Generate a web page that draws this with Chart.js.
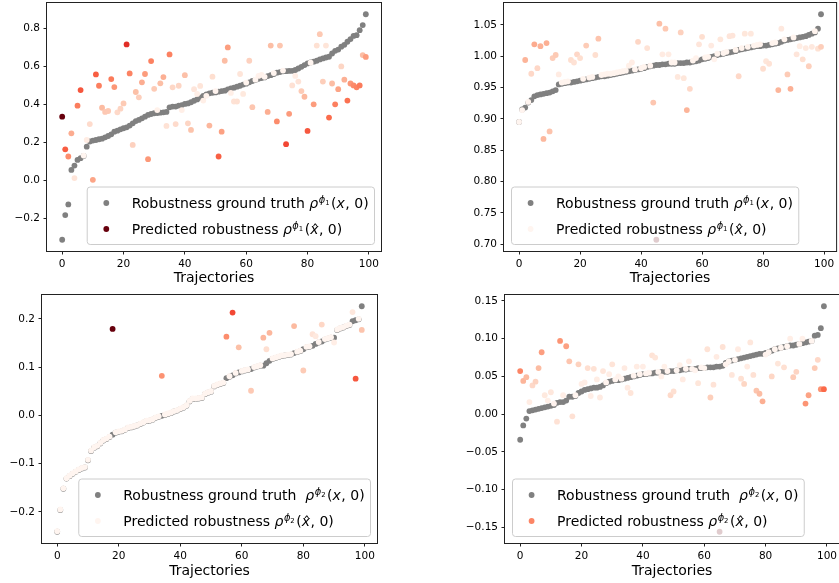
<!DOCTYPE html>
<html>
<head>
<meta charset="utf-8">
<script src="https://cdn.jsdelivr.net/npm/chart.js@4.4.1/dist/chart.umd.min.js"></script>
<style>
html, body { margin: 0; padding: 0; background: #fff; width: 839px; height: 583px; overflow: hidden; }
canvas { position: absolute; }
</style>
</head>
<body>
<canvas id="phi1a"></canvas>
<canvas id="phi1b"></canvas>
<canvas id="phi2a"></canvas>
<canvas id="phi2b"></canvas>
<script>
// ---- data ----
var xTicks = [0, 20, 40, 60, 80, 100];

var yTicksA = [-0.2, 0, 0.2, 0.4, 0.6, 0.8];
var yTicksB = [0.70, 0.75, 0.80, 0.85, 0.90, 0.95, 1.00, 1.05];
var yTicksC = [-0.2, -0.1, 0, 0.1, 0.2];
var yTicksD = [-0.15, -0.10, -0.05, 0, 0.05, 0.10, 0.15];

// top left: phi1, model A
var truthA = [-0.314, -0.184, -0.128, 0.054, 0.077, 0.107, 0.116, 0.128, 0.177, 0.204,
  0.209, 0.212, 0.216, 0.219, 0.226, 0.233, 0.242, 0.256, 0.261, 0.268,
  0.274, 0.279, 0.288, 0.300, 0.312, 0.318, 0.326, 0.335, 0.344, 0.349,
  0.353, 0.354, 0.356, 0.358, 0.360, 0.384, 0.388, 0.388, 0.393, 0.396,
  0.402, 0.405, 0.411, 0.419, 0.426, 0.435, 0.444, 0.453, 0.458, 0.461,
  0.463, 0.467, 0.470, 0.472, 0.479, 0.484, 0.488, 0.493, 0.498, 0.504,
  0.509, 0.516, 0.523, 0.528, 0.535, 0.539, 0.542, 0.549, 0.554, 0.560,
  0.567, 0.570, 0.574, 0.575, 0.576, 0.577, 0.581, 0.589, 0.598, 0.607,
  0.616, 0.621, 0.625, 0.630, 0.637, 0.642, 0.647, 0.651, 0.668, 0.682,
  0.689, 0.704, 0.714, 0.730, 0.744, 0.761, 0.765, 0.791, 0.818, 0.875];
var predA = [0.335, 0.163, 0.125, 0.247, 0.011, 0.393, 0.475, 0.130, 0.212, 0.296,
  0.002, 0.558, 0.498, 0.382, 0.360, 0.365, 0.533, 0.491, 0.358, 0.377,
  0.405, 0.716, 0.563, 0.186, 0.465, 0.437, 0.516, 0.560, 0.111, 0.628,
  0.482, 0.370, 0.511, 0.544, 0.286, 0.663, 0.490, 0.296, 0.498, 0.370,
  0.554, 0.300, 0.265, 0.480, 0.455, 0.497, 0.420, 0.445, 0.288, 0.546,
  0.470, 0.125, 0.256, 0.630, 0.700, 0.460, 0.415, 0.415, 0.560, 0.455,
  0.515, 0.630, 0.385, 0.530, 0.550, 0.555, 0.545, 0.360, 0.710, 0.565,
  0.310, 0.710, 0.578, 0.190, 0.350, 0.500, 0.550, 0.520, 0.470, 0.440,
  0.260, 0.620, 0.400, 0.710, 0.770, 0.520, 0.710, 0.330, 0.510, 0.400,
  0.480, 0.600, 0.530, 0.420, 0.510, 0.500, 0.490, 0.500, 0.660, 0.650];

// top right: phi1, model B
var truthB = [0.895, 0.915, 0.918, 0.926, 0.930, 0.936, 0.938, 0.939, 0.940, 0.941,
  0.942, 0.944, 0.946, 0.955, 0.956, 0.957, 0.958, 0.958, 0.959, 0.960,
  0.961, 0.962, 0.963, 0.964, 0.965, 0.966, 0.967, 0.968, 0.968, 0.969,
  0.970, 0.971, 0.972, 0.973, 0.974, 0.975, 0.976, 0.977, 0.978, 0.979,
  0.980, 0.981, 0.983, 0.984, 0.985, 0.986, 0.986, 0.987, 0.987, 0.988,
  0.988, 0.988, 0.989, 0.989, 0.989, 0.990, 0.990, 0.991, 0.992, 0.993,
  0.995, 0.996, 0.997, 0.999, 1.000, 1.002, 1.003, 1.004, 1.005, 1.006,
  1.007, 1.008, 1.010, 1.011, 1.012, 1.013, 1.014, 1.015, 1.016, 1.016,
  1.017, 1.017, 1.018, 1.019, 1.020, 1.021, 1.023, 1.025, 1.026, 1.027,
  1.028, 1.029, 1.030, 1.031, 1.032, 1.034, 1.036, 1.038, 1.044, 1.067];
var predB = [0.895, 0.914, 0.994, 0.927, 0.972, 1.019, 0.981, 1.016, 0.868, 1.021,
  0.880, 0.997, 1.002, 0.971, 0.958, 0.959, 0.960, 0.994, 0.990, 1.003,
  0.997, 0.964, 1.017, 0.966, 0.967, 1.002, 1.028, 0.970, 0.971, 0.972,
  0.972, 0.973, 0.974, 0.975, 0.976, 0.977, 0.985, 0.990, 0.979, 1.023,
  0.981, 0.983, 1.013, 0.985, 0.926, 0.707, 1.052, 1.003, 1.044, 1.003,
  0.990, 0.990, 0.967, 1.038, 0.965, 0.914, 0.948, 0.993, 0.997, 1.019,
  1.031, 0.998, 0.999, 1.017, 0.995, 1.004, 1.027, 1.005, 1.007, 1.032,
  1.033, 1.010, 0.968, 1.013, 1.036, 1.015, 1.036, 1.017, 1.018, 1.019,
  0.980, 0.992, 0.988, 1.021, 1.022, 0.946, 1.044, 1.027, 0.971, 0.948,
  1.030, 1.003, 1.016, 0.995, 1.013, 0.984, 1.015, 1.040, 1.012, 1.015];

// bottom left: phi2, model A
var truthC = [-0.241, -0.196, -0.152, -0.131, -0.126, -0.121, -0.117, -0.113, -0.110, -0.108,
  -0.093, -0.074, -0.067, -0.064, -0.058, -0.052, -0.049, -0.045, -0.040, -0.036,
  -0.034, -0.033, -0.030, -0.026, -0.025, -0.023, -0.021, -0.018, -0.015, -0.012,
  -0.011, -0.009, -0.005, -0.003, -0.001, 0.001, 0.003, 0.005, 0.008, 0.010,
  0.013, 0.016, 0.020, 0.029, 0.034, 0.034, 0.035, 0.036, 0.044, 0.047,
  0.049, 0.060, 0.063, 0.065, 0.067, 0.077, 0.080, 0.083, 0.087, 0.089,
  0.091, 0.093, 0.094, 0.096, 0.099, 0.101, 0.103, 0.103, 0.108, 0.113,
  0.117, 0.119, 0.121, 0.123, 0.124, 0.125, 0.126, 0.129, 0.131, 0.133,
  0.137, 0.141, 0.142, 0.144, 0.148, 0.151, 0.153, 0.157, 0.159, 0.161,
  0.161, 0.177, 0.180, 0.182, 0.185, 0.187, 0.195, 0.197, 0.199, 0.226];
var predC = [-0.240, -0.195, -0.151, -0.130, -0.125, -0.120, -0.116, -0.112, -0.109, -0.107,
  -0.092, -0.073, -0.066, -0.063, -0.057, -0.051, -0.048, -0.044, 0.179, -0.035,
  -0.033, -0.032, -0.029, -0.025, -0.024, -0.022, -0.020, -0.017, -0.014, -0.011,
  -0.010, -0.008, -0.004, -0.002, 0.082, 0.002, 0.004, 0.006, 0.009, 0.011,
  0.014, 0.017, 0.021, 0.030, 0.035, 0.035, 0.036, 0.037, 0.045, 0.048,
  0.050, 0.061, 0.064, 0.066, 0.068, 0.163, 0.081, 0.213, 0.088, 0.141,
  0.092, 0.094, 0.095, 0.051, 0.100, 0.102, 0.104, 0.161, 0.137, 0.171,
  0.118, 0.120, 0.122, 0.124, 0.125, 0.126, 0.127, 0.185, 0.132, 0.134,
  0.093, 0.142, 0.143, 0.168, 0.164, 0.152, 0.188, 0.158, 0.160, 0.162,
  0.151, 0.178, 0.181, 0.183, 0.186, 0.188, 0.214, 0.076, 0.200, 0.177];

// bottom right: phi2, model B
var truthD = [-0.034, -0.015, -0.006, 0.004, 0.005, 0.006, 0.007, 0.008, 0.009, 0.010,
  0.011, 0.012, 0.015, 0.016, 0.016, 0.018, 0.023, 0.023, 0.024, 0.028,
  0.030, 0.032, 0.033, 0.034, 0.035, 0.035, 0.036, 0.038, 0.041, 0.043,
  0.044, 0.045, 0.045, 0.046, 0.047, 0.048, 0.049, 0.050, 0.051, 0.052,
  0.053, 0.053, 0.054, 0.054, 0.055, 0.055, 0.056, 0.056, 0.056, 0.057,
  0.057, 0.058, 0.058, 0.059, 0.059, 0.060, 0.060, 0.060, 0.061, 0.061,
  0.061, 0.062, 0.062, 0.062, 0.063, 0.063, 0.064, 0.068, 0.070, 0.071,
  0.072, 0.073, 0.074, 0.075, 0.076, 0.077, 0.078, 0.079, 0.080, 0.080,
  0.081, 0.082, 0.084, 0.086, 0.087, 0.088, 0.089, 0.090, 0.091, 0.091,
  0.092, 0.093, 0.094, 0.095, 0.096, 0.097, 0.104, 0.105, 0.114, 0.143];
var predD = [0.057, 0.044, 0.049, 0.016, 0.038, 0.043, 0.061, 0.082, 0.025, 0.018,
  0.029, 0.014, -0.010, 0.097, 0.025, 0.090, 0.070, -0.003, 0.025, 0.066,
  0.040, 0.042, 0.061, 0.024, 0.060, 0.046, 0.022, 0.057, 0.042, 0.053,
  0.066, 0.046, 0.050, 0.047, 0.061, 0.035, 0.028, 0.051, 0.063, 0.053,
  0.063, 0.054, 0.055, 0.078, 0.075, 0.056, 0.050, 0.063, 0.057, 0.025,
  0.030, 0.058, 0.065, 0.046, 0.060, 0.070, 0.060, 0.058, 0.041, 0.062,
  0.061, 0.086, 0.022, 0.039, 0.076, -0.156, 0.089, 0.066, 0.070, 0.052,
  0.072, 0.086, 0.047, 0.040, 0.063, 0.095, 0.052, 0.031, 0.027, 0.017,
  0.079, 0.082, 0.050, 0.086, 0.067, 0.088, 0.062, 0.090, 0.100, 0.049,
  0.056, 0.093, 0.100, 0.014, 0.025, 0.097, 0.061, 0.072, 0.033, 0.033];

// legend labels, split into text runs (roman / italic / superscript)
var truthLabel1 = [['Robustness ground truth ', 'rm'], ['ρ', 'it'], ['ϕ', 'sup'], ['1', 'supsub'], ['(', 'rm'], ['x', 'it'], [', 0)', 'rm']];
var predLabel1 = [['Predicted robustness ', 'rm'], ['ρ', 'it'], ['ϕ', 'sup'], ['1', 'supsub'], ['(', 'rm'], ['x', 'hat'], [', 0)', 'rm']];
var truthLabel2 = [['Robustness ground truth  ', 'rm'], ['ρ', 'it'], ['ϕ', 'sup'], ['2', 'supsub'], ['(', 'rm'], ['x', 'it'], [', 0)', 'rm']];
var predLabel2 = [['Predicted robustness ', 'rm'], ['ρ', 'it'], ['ϕ', 'sup'], ['2', 'supsub'], ['(', 'rm'], ['x', 'hat'], [', 0)', 'rm']];

// ---- styling helpers ----
var FONT = 'DejaVu Sans';
var redsStops = ['#fff5f0', '#fee0d2', '#fcbba1', '#fc9272', '#fb6a4a', '#ef3b2c', '#cb181d', '#a50f15', '#67000d'];
var segStyle = {
  rm: { font: '14px "DejaVu Sans"', dy: 0, after: 0 },
  it: { font: 'italic 14px "DejaVu Sans"', dy: 0, after: 0.5 },
  hat: { font: 'italic 14px "DejaVu Sans"', dy: 0, after: 0.5 },
  sup: { font: 'italic 9.8px "DejaVu Sans"', dy: -5.5, after: 0 },
  supsub: { font: '6.9px "DejaVu Sans"', dy: -3.5, after: 1.5 }
};

function hexRgb(h) {
  return [parseInt(h.substr(1, 2), 16), parseInt(h.substr(3, 2), 16), parseInt(h.substr(5, 2), 16)];
}
function redsColor(t) {
  t = Math.max(0, Math.min(1, t));
  var pos = t * (redsStops.length - 1);
  var k = Math.min(Math.floor(pos), redsStops.length - 2);
  var f = pos - k;
  var a = hexRgb(redsStops[k]), b = hexRgb(redsStops[k + 1]);
  return 'rgb(' + [0, 1, 2].map(function (j) { return Math.round(a[j] + (b[j] - a[j]) * f); }).join(',') + ')';
}
// colour of each prediction = its absolute error on the Reds map
function errorColors(truth, pred) {
  var err = pred.map(function (p, i) { return Math.abs(p - truth[i]); });
  var lo = Math.min.apply(null, err), hi = Math.max.apply(null, err);
  return err.map(function (e) { return redsColor((e - lo) / (hi - lo)); });
}
function fmt(v, dec) {
  var s = Math.abs(v).toFixed(dec);
  return (v < -1e-9 ? '\u2212' : '') + s;
}
function toPoints(arr) {
  return arr.map(function (v, i) { return { x: i, y: v }; });
}

function drawMath(ctx, segs, x, y, draw) {
  var cx = x;
  segs.forEach(function (s) {
    var st = segStyle[s[1]];
    ctx.font = st.font;
    var w = ctx.measureText(s[0]).width;
    if (draw) {
      ctx.textAlign = 'left';
      ctx.fillText(s[0], cx, y + st.dy);
      if (s[1] === 'hat') {
        ctx.font = '14px "DejaVu Sans"';
        ctx.textAlign = 'center';
        ctx.fillText('\u02c6', cx + w / 2 + 1, y + 0.5);
        ctx.textAlign = 'left';
      }
    }
    cx += w + st.after;
  });
  return cx - x;
}

function makePanel(id, box, truth, pred, yTicks, yDec, truthLabel, predLabel, legendSide) {
  var canvas = document.getElementById(id);
  canvas.width = box.width;
  canvas.height = box.height;
  canvas.style.left = box.left + 'px';
  canvas.style.top = box.top + 'px';
  canvas.style.width = box.width + 'px';
  canvas.style.height = box.height + 'px';

  var colors = errorColors(truth, pred);
  var all = truth.concat(pred);
  var lo = Math.min.apply(null, all), hi = Math.max.apply(null, all);
  var margin = 0.05 * (hi - lo);

  var yAxisW = box.area.l - box.left;
  var xAxisH = box.height - (box.area.b - box.top);
  var titlePad = box.height - (box.titleY - box.top) - 8.4;

  var deco = {
    id: 'deco',
    afterDraw: function (chart) {
      var ctx = chart.ctx, a = chart.chartArea;
      ctx.save();
      // axes frame
      ctx.strokeStyle = '#222';
      ctx.lineWidth = 1;
      ctx.strokeRect(a.left - 0.5, a.top - 0.5, a.right - a.left + 1, a.bottom - a.top + 1);

      // legend inside the axes
      var w1 = drawMath(ctx, truthLabel, 0, 0, false);
      var w2 = drawMath(ctx, predLabel, 0, 0, false);
      var bw = 50.4 + Math.max(w1, w2), bh = 57.5;
      var bx = legendSide === 'left' ? a.left + 7 : a.right - 7 - bw;
      var by = a.bottom - 7 - bh;
      ctx.beginPath();
      ctx.roundRect(bx + 0.5, by + 0.5, bw, bh, 3);
      ctx.fillStyle = 'rgba(255,255,255,0.8)';
      ctx.fill();
      ctx.strokeStyle = '#cccccc';
      ctx.lineWidth = 1;
      ctx.stroke();

      var rows = [by + 16.5, by + 42.5];
      var marks = ['grey', colors[0]];
      var labels = [truthLabel, predLabel];
      ctx.textBaseline = 'alphabetic';
      for (var r = 0; r < 2; r++) {
        ctx.beginPath();
        ctx.arc(bx + 19.6, rows[r], 2.9, 0, Math.PI * 2);
        ctx.fillStyle = marks[r];
        ctx.fill();
        ctx.fillStyle = '#000';
        drawMath(ctx, labels[r], bx + 45, rows[r] + 5, true);
      }
      ctx.restore();
    }
  };

  var tickFont = { family: FONT, size: 10.5 };

  return new Chart(canvas, {
    type: 'scatter',
    data: {
      datasets: [
        {
          label: 'truth',
          data: toPoints(truth),
          pointBackgroundColor: 'grey',
          pointBorderWidth: 0,
          pointRadius: 2.9,
          pointHoverRadius: 2.9,
          order: 2
        },
        {
          label: 'pred',
          data: toPoints(pred),
          pointBackgroundColor: colors,
          pointBorderWidth: 0,
          pointRadius: 2.9,
          pointHoverRadius: 2.9,
          order: 1
        }
      ]
    },
    options: {
      responsive: false,
      animation: false,
      devicePixelRatio: 1,
      events: [],
      layout: {
        padding: { top: box.area.t - box.top, right: box.width - (box.area.r - box.left), bottom: 0, left: 0 }
      },
      plugins: { legend: { display: false }, tooltip: { enabled: false } },
      scales: {
        x: {
          type: 'linear',
          min: -4.95,
          max: 103.95,
          afterBuildTicks: function (s) { s.ticks = xTicks.map(function (v) { return { value: v }; }); },
          afterFit: function (s) { s.height = xAxisH; s.paddingLeft = 0; s.paddingRight = 0; },
          ticks: { font: tickFont, color: '#000', padding: 3.5, maxRotation: 0, autoSkip: false,
                   callback: function (v) { return fmt(v, 0); } },
          grid: { drawOnChartArea: false, drawTicks: true, tickLength: 3.5, tickWidth: 1, color: '#222', tickColor: '#222' },
          border: { display: false },
          title: { display: true, text: 'Trajectories', color: '#000',
                   font: { family: FONT, size: 14, lineHeight: 1.2 },
                   padding: { top: 0, bottom: titlePad } }
        },
        y: {
          type: 'linear',
          min: lo - margin,
          max: hi + margin,
          afterBuildTicks: function (s) { s.ticks = yTicks.map(function (v) { return { value: v }; }); },
          afterFit: function (s) { s.width = yAxisW; s.paddingTop = 0; s.paddingBottom = 0; },
          ticks: { font: tickFont, color: '#000', padding: 3.5, autoSkip: false,
                   callback: function (v) { return fmt(v, yDec); } },
          grid: { drawOnChartArea: false, drawTicks: true, tickLength: 3.5, tickWidth: 1, color: '#222', tickColor: '#222' },
          border: { display: false }
        }
      }
    },
    plugins: [deco]
  });
}

makePanel('phi1a', { left: 0, top: 0, width: 400, height: 290, area: { l: 47, t: 3, r: 381, b: 251 }, titleY: 278.5 },
  truthA, predA, yTicksA, 1, truthLabel1, predLabel1, 'right');
makePanel('phi1b', { left: 440, top: 0, width: 399, height: 290, area: { l: 504, t: 3, r: 838, b: 251 }, titleY: 278.5 },
  truthB, predB, yTicksB, 2, truthLabel1, predLabel1, 'left');
makePanel('phi2a', { left: 0, top: 290, width: 400, height: 293, area: { l: 42, t: 295, r: 377, b: 543 }, titleY: 571 },
  truthC, predC, yTicksC, 1, truthLabel2, predLabel2, 'right');
makePanel('phi2b', { left: 440, top: 290, width: 402, height: 293, area: { l: 505, t: 295, r: 840, b: 543 }, titleY: 571 },
  truthD, predD, yTicksD, 2, truthLabel2, predLabel2, 'left');
</script>
</body>
</html>
